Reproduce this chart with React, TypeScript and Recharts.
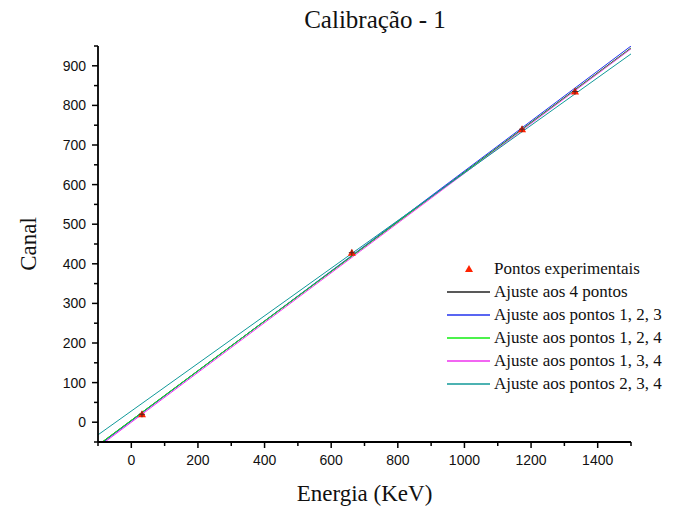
import React from 'react';
import { ComposedChart, Line, Scatter, XAxis, YAxis, Label } from 'recharts';

// experimental points (energy in keV, channel)
const energia = [32, 662, 1173, 1332];
const canal = [20, 428, 740, 835];

// fit lines read at the ends of the x range
const fitX = [-100, 1500];
const fitTodos = [-58, 945];
const fit123 = [-60, 950];
const fit124 = [-58, 944];
const fit134 = [-63, 943];
const fit234 = [-32, 930];

const xTicks = [-100, 0, 100, 200, 300, 400, 500, 600, 700, 800, 900, 1000, 1100, 1200, 1300, 1400, 1500];
const yTicks = [-50, 0, 50, 100, 150, 200, 250, 300, 350, 400, 450, 500, 550, 600, 650, 700, 750, 800, 850, 900, 950];

const pontos = energia.map((x, i) => ({ x, y: canal[i] }));
const toLine = (ys: number[]) => fitX.map((x, i) => ({ x, y: ys[i] }));

const series = [
  { name: 'Ajuste aos 4 pontos', color: '#222222', data: toLine(fitTodos) },
  { name: 'Ajuste aos pontos 1, 2, 3', color: '#2233ee', data: toLine(fit123) },
  { name: 'Ajuste aos pontos 1, 2, 4', color: '#11ee11', data: toLine(fit124) },
  { name: 'Ajuste aos pontos 1, 3, 4', color: '#ee33ee', data: toLine(fit134) },
  { name: 'Ajuste aos pontos 2, 3, 4', color: '#119999', data: toLine(fit234) },
];

const serif = '"Liberation Serif", "DejaVu Serif", serif';
const sans = '"Liberation Sans", Arial, sans-serif';

const XTick = (props: any) => {
  const { x, y, payload } = props;
  const v = payload.value;
  const major = v % 200 === 0;
  return (
    <g>
      <line x1={x} y1={y} x2={x} y2={y + (major ? 6 : 4)} stroke="#000" strokeWidth={1.5} />
      {major && v >= 0 && v <= 1400 && (
        <text x={x} y={y + 23} textAnchor="middle" fontFamily={sans} fontSize={14} fill="#111">
          {v}
        </text>
      )}
    </g>
  );
};

const YTick = (props: any) => {
  const { x, y, payload } = props;
  const v = payload.value;
  const major = v % 100 === 0;
  return (
    <g>
      <line x1={x} y1={y} x2={x - (major ? 6 : 4)} y2={y} stroke="#000" strokeWidth={1.5} />
      {major && (
        <text x={x - 12} y={y + 5} textAnchor="end" fontFamily={sans} fontSize={14} fill="#111">
          {v}
        </text>
      )}
    </g>
  );
};

const Ponto = (props: any) => {
  const { cx, cy } = props;
  if (cx == null || cy == null) return null;
  return (
    <g>
      <polygon points={`${cx},${cy - 4} ${cx + 4},${cy + 3} ${cx - 4},${cy + 3}`} fill="#ff2200" />
      <line x1={cx - 3} y1={cy} x2={cx + 3} y2={cy} stroke="#552222" strokeWidth={1} />
      <line x1={cx} y1={cy - 3} x2={cx} y2={cy + 3} stroke="#552222" strokeWidth={1} />
    </g>
  );
};

const Legenda = () => (
  <div
    style={{
      position: 'absolute',
      left: 447,
      top: 257,
      fontFamily: serif,
      fontSize: 17,
      color: '#111',
      lineHeight: '23px',
    }}
  >
    <div style={{ display: 'flex', alignItems: 'center' }}>
      <svg width={47} height={23}>
        <polygon points="22,8 26,15 18,15" fill="#ff2200" />
      </svg>
      <span>Pontos experimentais</span>
    </div>
    {series.map((s) => (
      <div key={s.name} style={{ display: 'flex', alignItems: 'center' }}>
        <svg width={47} height={23}>
          <line x1={0} y1={12} x2={43} y2={12} stroke={s.color} strokeWidth={1.5} />
        </svg>
        <span>{s.name}</span>
      </div>
    ))}
  </div>
);

export default function App() {
  return (
    <div style={{ position: 'absolute', left: 0, top: 0, width: 691, height: 509, background: '#fff' }}>
      <div
        style={{
          position: 'absolute',
          left: 0,
          width: 750,
          top: 6,
          textAlign: 'center',
          fontFamily: serif,
          fontSize: 25,
          color: '#111',
        }}
      >
        Calibração - 1
      </div>
      <ComposedChart width={691} height={509} margin={{ top: 46, right: 60, left: 0, bottom: 0 }}>
        <XAxis
          type="number"
          dataKey="x"
          domain={[-100, 1500]}
          ticks={xTicks}
          interval={0}
          allowDataOverflow
          tickLine={false}
          tickSize={0}
          tickMargin={0}
          tick={<XTick />}
          height={67}
          axisLine={{ stroke: '#000', strokeWidth: 1.8 }}
        >
          <Label
            value="Energia (KeV)"
            position="insideBottom"
            offset={8}
            style={{ fontFamily: serif, fontSize: 23, fill: '#111' }}
          />
        </XAxis>
        <YAxis
          type="number"
          dataKey="y"
          domain={[-50, 950]}
          ticks={yTicks}
          interval={0}
          allowDataOverflow
          tickLine={false}
          tickSize={0}
          tickMargin={0}
          tick={<YTick />}
          width={98}
          axisLine={{ stroke: '#000', strokeWidth: 1.8 }}
        >
          <Label
            value="Canal"
            angle={-90}
            position="insideLeft"
            offset={28}
            style={{ fontFamily: serif, fontSize: 23, fill: '#111', textAnchor: 'middle' }}
          />
        </YAxis>
        {series.map((s) => (
          <Line
            key={s.name}
            data={s.data}
            dataKey="y"
            name={s.name}
            stroke={s.color}
            strokeWidth={1}
            dot={false}
            activeDot={false}
            isAnimationActive={false}
          />
        ))}
        <Scatter data={pontos} dataKey="y" name="Pontos experimentais" shape={<Ponto />} isAnimationActive={false} />
      </ComposedChart>
      <Legenda />
    </div>
  );
}
